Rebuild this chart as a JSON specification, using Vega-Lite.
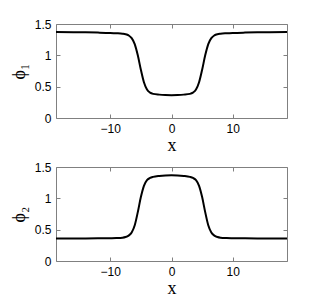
{
  "$schema": "https://vega.github.io/schema/vega-lite/v6.json",
  "background": "white",
  "padding": {"left": 9, "top": 17, "right": 5, "bottom": 5},
  "spacing": 5,
  "config": {
    "view": {"stroke": "#808080", "strokeWidth": 1},
    "axis": {
      "domain": false, "grid": false, "tickColor": "#808080", "tickSize": -4,
      "labelFont": "Liberation Sans", "labelFontSize": 12, "labelColor": "black", "labelPadding": 9,
      "titleFont": "Liberation Serif", "titleFontSize": 18, "titleFontWeight": "normal", "titleColor": "black"
    }
  },
  "datasets": {
    "phi1": [
      {"x": -18.85, "phi": 1.372}, {"x": -16, "phi": 1.370}, {"x": -14, "phi": 1.367}, {"x": -12, "phi": 1.363},
      {"x": -10, "phi": 1.357}, {"x": -9, "phi": 1.352}, {"x": -8, "phi": 1.345}, {"x": -7.5, "phi": 1.337},
      {"x": -7, "phi": 1.318}, {"x": -6.5, "phi": 1.275}, {"x": -6, "phi": 1.18}, {"x": -5.5, "phi": 1.0},
      {"x": -5, "phi": 0.77}, {"x": -4.5, "phi": 0.57}, {"x": -4, "phi": 0.455}, {"x": -3.5, "phi": 0.405},
      {"x": -3, "phi": 0.385}, {"x": -2, "phi": 0.373}, {"x": -1, "phi": 0.367}, {"x": 0, "phi": 0.365},
      {"x": 1, "phi": 0.367}, {"x": 2, "phi": 0.373}, {"x": 3, "phi": 0.385}, {"x": 3.5, "phi": 0.405},
      {"x": 4, "phi": 0.455}, {"x": 4.5, "phi": 0.57}, {"x": 5, "phi": 0.77}, {"x": 5.5, "phi": 1.0},
      {"x": 6, "phi": 1.18}, {"x": 6.5, "phi": 1.275}, {"x": 7, "phi": 1.318}, {"x": 7.5, "phi": 1.337},
      {"x": 8, "phi": 1.345}, {"x": 9, "phi": 1.352}, {"x": 10, "phi": 1.357}, {"x": 12, "phi": 1.363},
      {"x": 14, "phi": 1.367}, {"x": 16, "phi": 1.370}, {"x": 18.85, "phi": 1.372}
    ],
    "phi2": [
      {"x": -18.85, "phi": 0.360}, {"x": -16, "phi": 0.360}, {"x": -14, "phi": 0.361}, {"x": -12, "phi": 0.362},
      {"x": -10, "phi": 0.364}, {"x": -9, "phi": 0.366}, {"x": -8, "phi": 0.372}, {"x": -7.5, "phi": 0.382},
      {"x": -7, "phi": 0.405}, {"x": -6.5, "phi": 0.455}, {"x": -6, "phi": 0.57}, {"x": -5.5, "phi": 0.78},
      {"x": -5, "phi": 1.02}, {"x": -4.5, "phi": 1.2}, {"x": -4, "phi": 1.29}, {"x": -3.5, "phi": 1.325},
      {"x": -3, "phi": 1.342}, {"x": -2, "phi": 1.358}, {"x": -1, "phi": 1.366}, {"x": 0, "phi": 1.368},
      {"x": 1, "phi": 1.366}, {"x": 2, "phi": 1.358}, {"x": 3, "phi": 1.342}, {"x": 3.5, "phi": 1.325},
      {"x": 4, "phi": 1.29}, {"x": 4.5, "phi": 1.2}, {"x": 5, "phi": 1.02}, {"x": 5.5, "phi": 0.78},
      {"x": 6, "phi": 0.57}, {"x": 6.5, "phi": 0.455}, {"x": 7, "phi": 0.405}, {"x": 7.5, "phi": 0.382},
      {"x": 8, "phi": 0.372}, {"x": 9, "phi": 0.366}, {"x": 10, "phi": 0.364}, {"x": 12, "phi": 0.362},
      {"x": 14, "phi": 0.361}, {"x": 16, "phi": 0.360}, {"x": 18.85, "phi": 0.360}
    ]
  },
  "vconcat": [
    {
      "width": 231, "height": 94,
      "data": {"name": "phi1"},
      "layer": [
        {
          "mark": {"type": "line", "color": "black", "strokeWidth": 2, "interpolate": "monotone"},
          "encoding": {
            "x": {"field": "x", "type": "quantitative", "scale": {"domain": [-18.85, 18.85], "nice": false, "zero": false},
                  "axis": {"values": [-10, 0, 10], "title": "x", "titlePadding": 2}},
            "y": {"field": "phi", "type": "quantitative", "scale": {"domain": [0, 1.5], "nice": false},
                  "axis": {"values": [0, 0.5, 1, 1.5], "format": "~g", "title": "ϕ₁", "titlePadding": 6}}
          }
        },
        {
          "mark": {"type": "line", "opacity": 0},
          "encoding": {
            "x": {"field": "x", "type": "quantitative", "axis": {"orient": "top", "values": [-10, 0, 10], "labels": false, "title": null}},
            "y": {"field": "phi", "type": "quantitative", "axis": {"orient": "right", "values": [0, 0.5, 1, 1.5], "labels": false, "title": null}}
          }
        }
      ],
      "resolve": {"axis": {"x": "independent", "y": "independent"}}
    },
    {
      "width": 231, "height": 94,
      "data": {"name": "phi2"},
      "layer": [
        {
          "mark": {"type": "line", "color": "black", "strokeWidth": 2, "interpolate": "monotone"},
          "encoding": {
            "x": {"field": "x", "type": "quantitative", "scale": {"domain": [-18.85, 18.85], "nice": false, "zero": false},
                  "axis": {"values": [-10, 0, 10], "title": "x", "titlePadding": 2}},
            "y": {"field": "phi", "type": "quantitative", "scale": {"domain": [0, 1.5], "nice": false},
                  "axis": {"values": [0, 0.5, 1, 1.5], "format": "~g", "title": "ϕ₂", "titlePadding": 6}}
          }
        },
        {
          "mark": {"type": "line", "opacity": 0},
          "encoding": {
            "x": {"field": "x", "type": "quantitative", "axis": {"orient": "top", "values": [-10, 0, 10], "labels": false, "title": null}},
            "y": {"field": "phi", "type": "quantitative", "axis": {"orient": "right", "values": [0, 0.5, 1, 1.5], "labels": false, "title": null}}
          }
        }
      ],
      "resolve": {"axis": {"x": "independent", "y": "independent"}}
    }
  ]
}
